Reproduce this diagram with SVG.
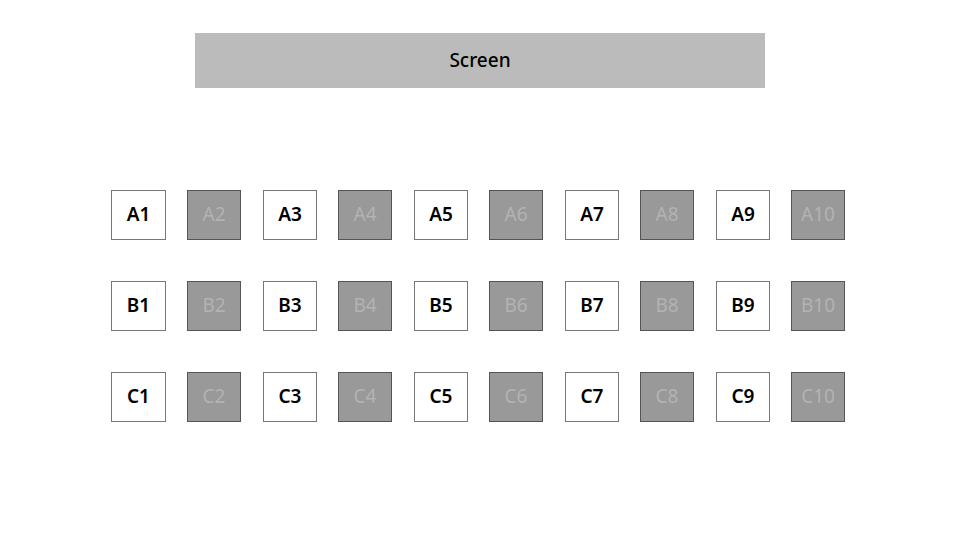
<svg xmlns="http://www.w3.org/2000/svg" width="960" height="540" viewBox="0 0 960 540">
<style>
.scr{fill:#bbbbbb}
.st{font-family:"Noto Sans","Noto Sans CJK KR",sans-serif;font-size:19px;text-anchor:middle;dominant-baseline:central}
.free rect{fill:#ffffff;stroke:#777777;stroke-width:1}
.free text{fill:#000000;font-weight:600}
.taken rect{fill:#999999;stroke:#555555;stroke-width:1}
.taken text{fill:#b3b3b3;font-weight:400}
</style>
<rect width="960" height="540" fill="#ffffff"/>
<g id="screen"><rect class="scr" x="195" y="33" width="570" height="55"/><text class="st" x="480" y="60" font-size="17" style="font-weight:500">Screen</text></g>
<g id="seats" class="st">
<g id="A1" class="free"><rect x="111.5" y="190.5" width="54" height="49"/><text x="138.5" y="214">A1</text></g>
<g id="A2" class="taken"><rect x="187.5" y="190.5" width="53" height="49"/><text x="214" y="214">A2</text></g>
<g id="A3" class="free"><rect x="263.5" y="190.5" width="53" height="49"/><text x="290" y="214">A3</text></g>
<g id="A4" class="taken"><rect x="338.5" y="190.5" width="53" height="49"/><text x="365" y="214">A4</text></g>
<g id="A5" class="free"><rect x="414.5" y="190.5" width="53" height="49"/><text x="441" y="214">A5</text></g>
<g id="A6" class="taken"><rect x="489.5" y="190.5" width="53" height="49"/><text x="516" y="214">A6</text></g>
<g id="A7" class="free"><rect x="565.5" y="190.5" width="53" height="49"/><text x="592" y="214">A7</text></g>
<g id="A8" class="taken"><rect x="640.5" y="190.5" width="53" height="49"/><text x="667" y="214">A8</text></g>
<g id="A9" class="free"><rect x="716.5" y="190.5" width="53" height="49"/><text x="743" y="214">A9</text></g>
<g id="A10" class="taken"><rect x="791.5" y="190.5" width="53" height="49"/><text x="818" y="214">A10</text></g>
<g id="B1" class="free"><rect x="111.5" y="281.5" width="54" height="49"/><text x="138.5" y="305">B1</text></g>
<g id="B2" class="taken"><rect x="187.5" y="281.5" width="53" height="49"/><text x="214" y="305">B2</text></g>
<g id="B3" class="free"><rect x="263.5" y="281.5" width="53" height="49"/><text x="290" y="305">B3</text></g>
<g id="B4" class="taken"><rect x="338.5" y="281.5" width="53" height="49"/><text x="365" y="305">B4</text></g>
<g id="B5" class="free"><rect x="414.5" y="281.5" width="53" height="49"/><text x="441" y="305">B5</text></g>
<g id="B6" class="taken"><rect x="489.5" y="281.5" width="53" height="49"/><text x="516" y="305">B6</text></g>
<g id="B7" class="free"><rect x="565.5" y="281.5" width="53" height="49"/><text x="592" y="305">B7</text></g>
<g id="B8" class="taken"><rect x="640.5" y="281.5" width="53" height="49"/><text x="667" y="305">B8</text></g>
<g id="B9" class="free"><rect x="716.5" y="281.5" width="53" height="49"/><text x="743" y="305">B9</text></g>
<g id="B10" class="taken"><rect x="791.5" y="281.5" width="53" height="49"/><text x="818" y="305">B10</text></g>
<g id="C1" class="free"><rect x="111.5" y="372.5" width="54" height="49"/><text x="138.5" y="396">C1</text></g>
<g id="C2" class="taken"><rect x="187.5" y="372.5" width="53" height="49"/><text x="214" y="396">C2</text></g>
<g id="C3" class="free"><rect x="263.5" y="372.5" width="53" height="49"/><text x="290" y="396">C3</text></g>
<g id="C4" class="taken"><rect x="338.5" y="372.5" width="53" height="49"/><text x="365" y="396">C4</text></g>
<g id="C5" class="free"><rect x="414.5" y="372.5" width="53" height="49"/><text x="441" y="396">C5</text></g>
<g id="C6" class="taken"><rect x="489.5" y="372.5" width="53" height="49"/><text x="516" y="396">C6</text></g>
<g id="C7" class="free"><rect x="565.5" y="372.5" width="53" height="49"/><text x="592" y="396">C7</text></g>
<g id="C8" class="taken"><rect x="640.5" y="372.5" width="53" height="49"/><text x="667" y="396">C8</text></g>
<g id="C9" class="free"><rect x="716.5" y="372.5" width="53" height="49"/><text x="743" y="396">C9</text></g>
<g id="C10" class="taken"><rect x="791.5" y="372.5" width="53" height="49"/><text x="818" y="396">C10</text></g>
</g>
<g id="connectors"/>
</svg>
